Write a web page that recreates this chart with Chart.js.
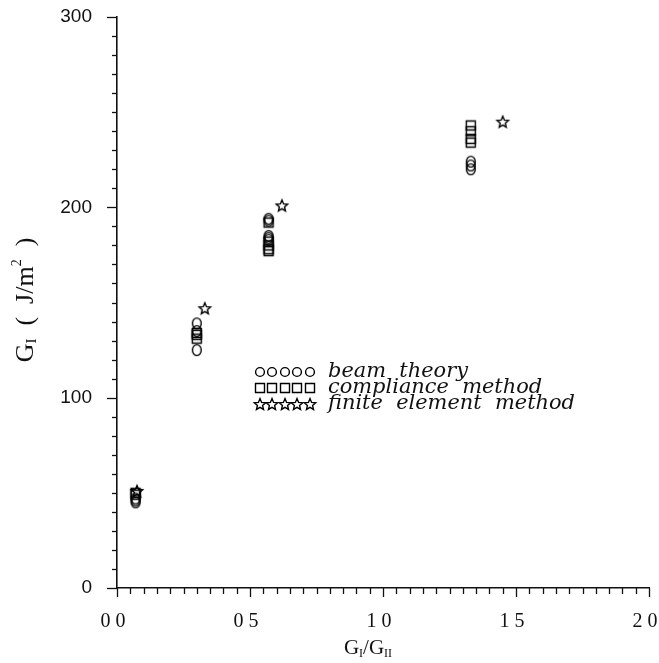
<!DOCTYPE html>
<html>
<head>
<meta charset="utf-8">
<script src="https://cdn.jsdelivr.net/npm/chart.js@4/dist/chart.umd.min.js"></script>
<style>
  html, body { margin: 0; padding: 0; background: #fff; }
  canvas { display: block; }
</style>
</head>
<body>
<canvas id="c" width="659" height="663"></canvas>
<script>
// ---- data ----
const beamX = [0.07, 0.07, 0.07, 0.30, 0.30, 0.30, 0.57, 0.57, 0.57, 0.57, 0.57, 1.33, 1.33, 1.33];
const beamY = [45, 46, 47, 139, 135, 125, 193, 194, 185, 184, 183, 224, 222, 220];
const compX = [0.07, 0.07, 0.30, 0.30, 0.30, 0.57, 0.57, 0.57, 0.57, 0.57, 1.33, 1.33, 1.33, 1.33];
const compY = [49, 50, 131, 133, 134, 192, 182, 180, 178, 177, 243, 240, 236, 234];
const femX = [0.075, 0.33, 0.62, 1.45];
const femY = [51, 147, 201, 245];
const xTickLabels = ['0 0', '0 5', '1 0', '1 5', '2 0'];
const yTickLabels = ['0', '100', '200', '300'];
const legendLabels = ['beam  theory', 'compliance  method', 'finite  element  method'];

function toPts(xs, ys) { return xs.map((x, i) => ({ x: x, y: ys[i] })); }

function makeMarker(kind, round) {
  const c = document.createElement('canvas');
  c.width = 16; c.height = 16;
  const g = c.getContext('2d');
  g.strokeStyle = '#000';
  g.lineWidth = 1.4;
  g.beginPath();
  if (kind === 'circle') {
    g.ellipse(8, 8, round ? 4.4 : 4.4, round ? 4.4 : 5.4, 0, 0, Math.PI * 2);
  } else if (kind === 'square') {
    g.rect(3.5, 3.5, 9, 9);
  } else {
    const R = 6, r = 2.7;
    for (let k = 0; k < 10; k++) {
      const a = -Math.PI / 2 + k * Math.PI / 5;
      const rr = k % 2 === 0 ? R : r;
      const px = 8 + rr * Math.cos(a), py = 8.6 + rr * Math.sin(a);
      if (k === 0) g.moveTo(px, py); else g.lineTo(px, py);
    }
    g.closePath();
  }
  g.stroke();
  return c;
}
const mCircle = makeMarker('circle', false);
const mSquare = makeMarker('square');
const mStar = makeMarker('star');
const lCircle = makeMarker('circle', true);

function drawRich(ctx, parts, cx, baseY, align) {
  let w = 0;
  parts.forEach(p => { ctx.font = p.font; p.w = ctx.measureText(p.t).width; w += p.w; });
  let x = align === 'center' ? cx - w / 2 : cx;
  ctx.textAlign = 'left';
  ctx.textBaseline = 'alphabetic';
  parts.forEach(p => { ctx.font = p.font; ctx.fillText(p.t, x, baseY + (p.dy || 0)); x += p.w; });
}

const decor = {
  id: 'decor',
  afterDraw(chart) {
    const ctx = chart.ctx;
    const xs = chart.scales.x, ys = chart.scales.y;
    const area = chart.chartArea;
    ctx.save();
    ctx.strokeStyle = '#111';
    ctx.lineWidth = 1.3;
    // y ticks (outward, left)
    ys.ticks.forEach(t => {
      const y = Math.round(ys.getPixelForValue(t.value)) + 0.5;
      const major = t.value % 100 === 0;
      const len = major ? 10 : 5;
      ctx.beginPath(); ctx.moveTo(area.left - len, y); ctx.lineTo(area.left, y); ctx.stroke();
    });
    // x ticks (outward, down)
    xs.ticks.forEach(t => {
      const x = Math.round(xs.getPixelForValue(t.value)) + 0.5;
      const major = Math.abs(t.value * 2 - Math.round(t.value * 2)) < 1e-6;
      const len = major ? 9 : 6;
      ctx.beginPath(); ctx.moveTo(x, area.bottom); ctx.lineTo(x, area.bottom + len); ctx.stroke();
    });
    ctx.fillStyle = '#111';
    // y title
    ctx.save();
    ctx.translate(33, 300);
    ctx.rotate(-Math.PI / 2);
    drawRich(ctx, [
      { t: 'G', font: '26px "Liberation Serif"' },
      { t: 'I', font: '15px "Liberation Serif"', dy: 3 },
      { t: '  (  J/m', font: '26px "Liberation Serif"' },
      { t: '2', font: '14px "Liberation Serif"', dy: -12 },
      { t: '  )', font: '26px "Liberation Serif"' }
    ], 0, 0, 'center');
    ctx.restore();
    // x title
    drawRich(ctx, [
      { t: 'G', font: '21px "Liberation Serif"' },
      { t: 'I', font: '12px "Liberation Serif"', dy: 3 },
      { t: '/G', font: '21px "Liberation Serif"' },
      { t: 'II', font: '12px "Liberation Serif"', dy: 3 }
    ], 368, 654, 'center');
    // legend
    const markers = [lCircle, mSquare, mStar];
    const rowsY = [372, 388, 404];
    let fs = 20;
    ctx.font = 'italic ' + fs + 'px "DejaVu Serif"';
    const wLong = ctx.measureText(legendLabels[2]).width;
    fs = fs * 247 / wLong;
    legendLabels.forEach((lab, i) => {
      for (let k = 0; k < 5; k++) {
        const cx = 259.5 + k * 12.6;
        ctx.drawImage(markers[i], Math.round(cx - 8), Math.round(rowsY[i] - 8));
      }
      ctx.font = 'italic ' + fs.toFixed(2) + 'px "DejaVu Serif"';
      ctx.textAlign = 'left';
      ctx.textBaseline = 'alphabetic';
      ctx.fillText(lab, 328, rowsY[i] + 5);
    });
    ctx.restore();
  }
};

new Chart(document.getElementById('c'), {
  type: 'scatter',
  data: {
    datasets: [
      { label: 'beam theory', data: toPts(beamX, beamY), pointStyle: mCircle, pointRadius: 5 },
      { label: 'compliance method', data: toPts(compX, compY), pointStyle: mSquare, pointRadius: 5 },
      { label: 'finite element method', data: toPts(femX, femY), pointStyle: mStar, pointRadius: 6 }
    ]
  },
  options: {
    responsive: false,
    animation: false,
    layout: { padding: { top: 17, right: 10, left: 0, bottom: 0 } },
    plugins: { legend: { display: false }, tooltip: { enabled: false } },
    scales: {
      x: {
        type: 'linear', min: 0, max: 2,
        grid: { display: false },
        border: { display: true, color: '#111', width: 1.6 },
        ticks: {
          stepSize: 0.05, autoSkip: false, maxRotation: 0, minRotation: 0,
          color: '#111', padding: 14, labelOffset: -4,
          font: { family: '"Liberation Serif"', size: 20 },
          callback: (v) => {
            const k = v * 2;
            return Math.abs(k - Math.round(k)) < 1e-6 ? xTickLabels[Math.round(k)] : '';
          }
        },
        afterFit: (s) => { s.height = 75; s.paddingLeft = 0; s.paddingRight = 0; }
      },
      y: {
        type: 'linear', min: 0, max: 300,
        grid: { display: false },
        border: { display: true, color: '#111', width: 1.6 },
        ticks: {
          stepSize: 10, autoSkip: false, color: '#111', padding: 17,
          font: { family: '"Liberation Sans"', size: 19 },
          callback: (v) => (v % 100 === 0 ? yTickLabels[v / 100] : '')
        },
        afterFit: (s) => { s.width = 117; s.paddingTop = 0; s.paddingBottom = 0; }
      }
    }
  },
  plugins: [decor]
});
</script>
</body>
</html>
